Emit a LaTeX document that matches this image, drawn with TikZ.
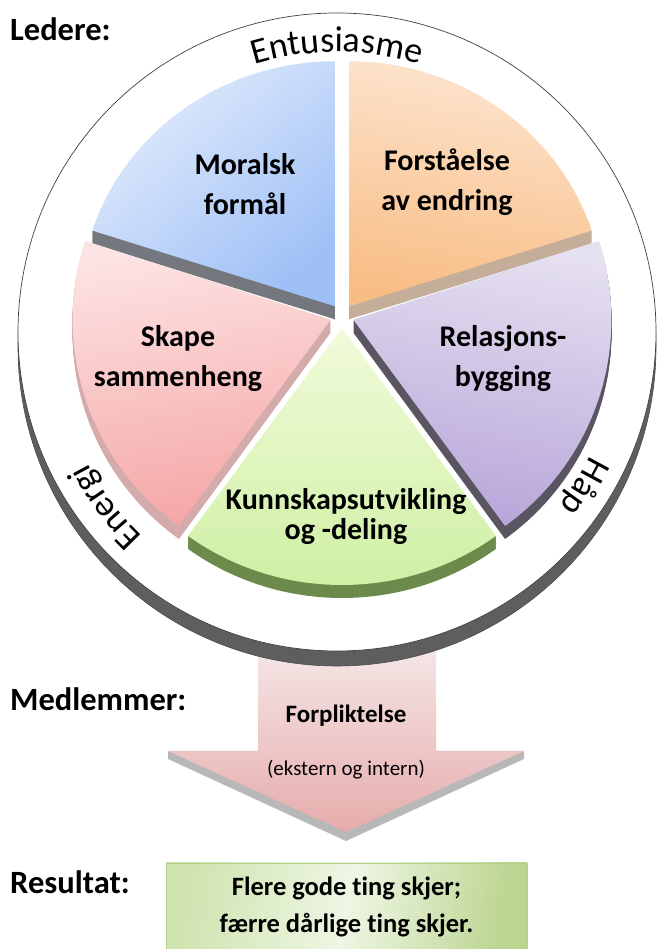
\documentclass[tikz,border=0pt]{standalone}
\usepackage{fontspec}
\setmainfont{Carlito}[Ligatures=NoCommon]
\usetikzlibrary{decorations.text}
\definecolor{blueA}{HTML}{E2ECFC}\definecolor{blueB}{HTML}{9FC0F6}\definecolor{blueS}{HTML}{74787E}
\definecolor{oraA}{HTML}{FDE5D0}\definecolor{oraB}{HTML}{F8BD84}\definecolor{oraS}{HTML}{C4AE9A}
\definecolor{purA}{HTML}{E6E1F1}\definecolor{purB}{HTML}{B7A5D9}\definecolor{purS}{HTML}{5A5661}
\definecolor{greA}{HTML}{F1FBDA}\definecolor{greB}{HTML}{CDEFA1}\definecolor{greS}{HTML}{6C8A4C}
\definecolor{pinA}{HTML}{FDE4E4}\definecolor{pinB}{HTML}{F5A5A5}\definecolor{pinS}{HTML}{D4ABAB}
\definecolor{discS}{HTML}{5E5E5E}
\definecolor{arrA}{HTML}{F6E8E8}\definecolor{arrB}{HTML}{E6ACAC}\definecolor{arrS}{HTML}{B8B8B8}
\definecolor{boxL}{HTML}{EEF6E4}\definecolor{boxD}{HTML}{D0E4B0}\definecolor{boxR}{HTML}{BCD590}\definecolor{boxE}{HTML}{B5CF8A}
\newcommand\curvefont{\fontsize{36}{36}\selectfont}
\begin{document}
\begin{tikzpicture}[x=1pt,y=1pt,
  slice/.style n args={6}{insert path={([yshift=-#6]#1) -- ++(#2:#4 and #5) arc[start angle=#2,end angle=#3,x radius=#4,y radius=#5] -- cycle}},
  lab/.style={font=\bfseries\fontsize{30}{40}\selectfont, align=center, inner sep=0pt},
  head/.style={font=\bfseries\fontsize{32.5}{36}\selectfont, anchor=base west, inner sep=0pt},
  curved/.style={decorate, decoration={text along path, text align=center, text={|\curvefont|#1}}}
]
\useasboundingbox (0,0) rectangle (660,949);

% arrow (behind the disc)
\fill[arrS] (168,198) -- (168,190) -- (346,108) -- (524,190) -- (524,198) -- cycle;
\path[top color=arrA, bottom color=arrB] (258,309) -- (436,309) -- (436,198) -- (524,198) -- (346,117) -- (168,198) -- (258,198) -- cycle;

% disc
\coordinate (C) at (337,617);
\fill[discS] (337,602) circle (319);
\draw[black!70, line width=0.6] (337,602) circle (319);
\fill[white] (C) circle (319);
\draw[black!75, line width=0.7] (C) circle (319);

% slice apexes
\coordinate (bl) at (334.9,642.7);
\coordinate (or) at (349.1,642.7);
\coordinate (pu) at (353.4,629.3);
\coordinate (gr) at (342,621);
\coordinate (pk) at (330.6,629.3);

% blue
\foreach \s in {1,...,13} \fill[blueS, slice={bl}{90}{162}{255}{245}{\s}];
\path[top color=blueA, bottom color=blueB, shading angle=40, slice={bl}{90}{162}{255}{245}{0}];
% orange
\foreach \s in {1,...,13} \fill[oraS, slice={or}{18}{90}{255}{245}{\s}];
\path[top color=oraA, bottom color=oraB, shading angle=-10, slice={or}{18}{90}{255}{245}{0}];
% pink
\foreach \s in {1,...,13} \fill[pinS, slice={pk}{162}{234}{258}{255}{\s}];
\path[top color=pinA, bottom color=pinB, shading angle=10, slice={pk}{162}{234}{258}{255}{0}];
% purple
\foreach \s in {1,...,13} \fill[purS, slice={pu}{-54}{18}{258}{255}{\s}];
\path[top color=purA, bottom color=purB, shading angle=-10, slice={pu}{-54}{18}{258}{255}{0}];
% green
\foreach \s in {1,...,13} \fill[greS, slice={gr}{234}{306}{262}{257}{\s}];
\path[top color=greA, bottom color=greB, slice={gr}{234}{306}{262}{257}{0}];

% slice labels
\node[lab] (moral) at (245,765) {Moralsk\\formål};
\node[lab] (forst) at (447,767) {Forståelse\\av endring};
\node[lab] (skape) at (178,590) {Skape\\sammenheng};
\node[lab] (relas) at (503,590) {Relasjons-\\bygging};
\node[lab, font=\bfseries\fontsize{30}{30}\selectfont] (kunn) at (346,432) {Kunnskapsutvikling\\og -deling};

% curved labels
\path[shift={(C)}, curved={Entusiasme}] (135:280) arc[start angle=135, end angle=45, radius=280];
\path[shift={(C)}, curved={Energi}] (257:282) arc[start angle=257, end angle=177, radius=282];
\path[shift={(C)}, curved={Håp}] (358:282) arc[start angle=358, end angle=298, radius=282];

% headings
\node[head] (ledere) at (10,908) {Ledere:};
\node[head] (medl) at (10,238) {Medlemmer:};
\node[head] (resul) at (10,55) {Resultat:};

% arrow texts
\node[font=\bfseries\fontsize{25}{30}\selectfont] (forp) at (346,233) {Forpliktelse};
\node[font=\fontsize{21}{26}\selectfont] (ekst) at (346,179) {(ekstern og intern)};

% result box
\node[draw=boxE, line width=0.6, minimum width=361, minimum height=88, inner sep=0pt,
      left color=boxD, right color=boxR, middle color=boxL, shading angle=80,
      align=center, font=\bfseries\fontsize{26.5}{37}\selectfont] (box) at (346.5,42) {Flere gode ting skjer;\\færre dårlige ting skjer.};
\end{tikzpicture}
\end{document}
